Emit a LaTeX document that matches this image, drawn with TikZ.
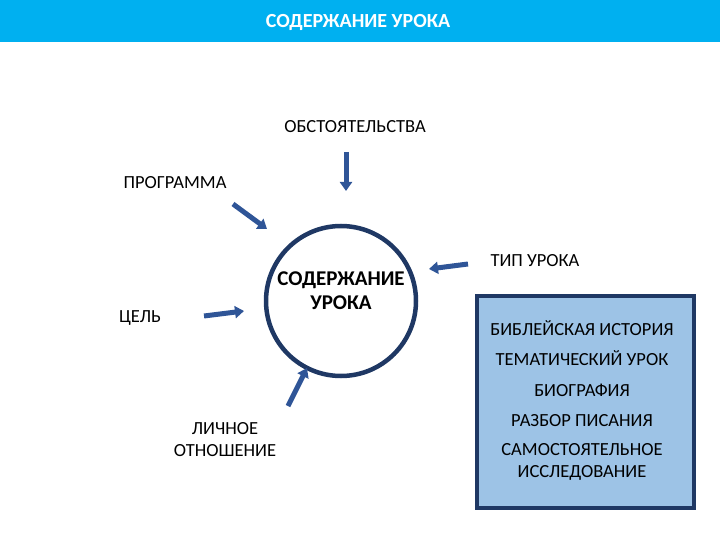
\documentclass[tikz,border=0pt]{standalone}
\usepackage{fontspec}
\setmainfont{Carlito}
\usetikzlibrary{arrows.meta}
\definecolor{hdr}{RGB}{0,176,240}
\definecolor{navy}{RGB}{31,56,100}
\definecolor{arr}{RGB}{47,85,151}
\definecolor{boxf}{RGB}{157,195,230}
\begin{document}
\begin{tikzpicture}[x=1pt,y=-1pt,
  lbl/.style={font=\fontsize{18.5}{22}\selectfont, align=center, text=black},
  stub/.style={draw=arr, line width=5pt, -{Triangle[length=9pt,width=12pt]}}]
\useasboundingbox (0,0) rectangle (720,540);
\fill[hdr] (0,0) rectangle (720,42);
\node[font=\bfseries\fontsize{20}{24}\selectfont, text=white] (title) at (358,22) {СОДЕРЖАНИЕ УРОКА};
\node[circle, draw=navy, line width=4.5pt, minimum size=150pt, inner sep=0pt] (c) at (341,301) {};
\node[font=\bfseries\fontsize{21}{24}\selectfont, align=center] (ct) at (341,291) {СОДЕРЖАНИЕ\\УРОКА};
\node[draw=navy, line width=3.5pt, fill=boxf, minimum width=217pt, minimum height=212pt, anchor=north west] (box) at (475,294) {};
\node[lbl] (o) at (355,127) {ОБСТОЯТЕЛЬСТВА};
\node[lbl] (p) at (175,183) {ПРОГРАММА};
\node[lbl] (g) at (140,318) {ЦЕЛЬ};
\node[lbl] (l) at (225,440) {ЛИЧНОЕ\\ОТНОШЕНИЕ};
\node[lbl] (t) at (535,261) {ТИП УРОКА};
\node[lbl] (b1) at (582,328) {БИБЛЕЙСКАЯ ИСТОРИЯ};
\node[lbl] (b2) at (582,358) {ТЕМАТИЧЕСКИЙ УРОК};
\node[lbl] (b3) at (582,390) {БИОГРАФИЯ};
\node[lbl] (b4) at (582,421) {РАЗБОР ПИСАНИЯ};
\node[lbl] (b5) at (582,462) {САМОСТОЯТЕЛЬНОЕ\\ИССЛЕДОВАНИЕ};
\coordinate (a1s) at (346,152); \coordinate (a1e) at (346,191);
\coordinate (a2s) at (233,204); \coordinate (a2e) at (267,229);
\coordinate (a3s) at (204,316); \coordinate (a3e) at (244,311);
\coordinate (a4s) at (288,406); \coordinate (a4e) at (307,368);
\coordinate (a5s) at (468,264); \coordinate (a5e) at (429,269);
\draw[stub] (a1s) -- (a1e);
\draw[stub] (a2s) -- (a2e);
\draw[stub] (a3s) -- (a3e);
\draw[stub] (a4s) -- (a4e);
\draw[stub] (a5s) -- (a5e);
\end{tikzpicture}
\end{document}
